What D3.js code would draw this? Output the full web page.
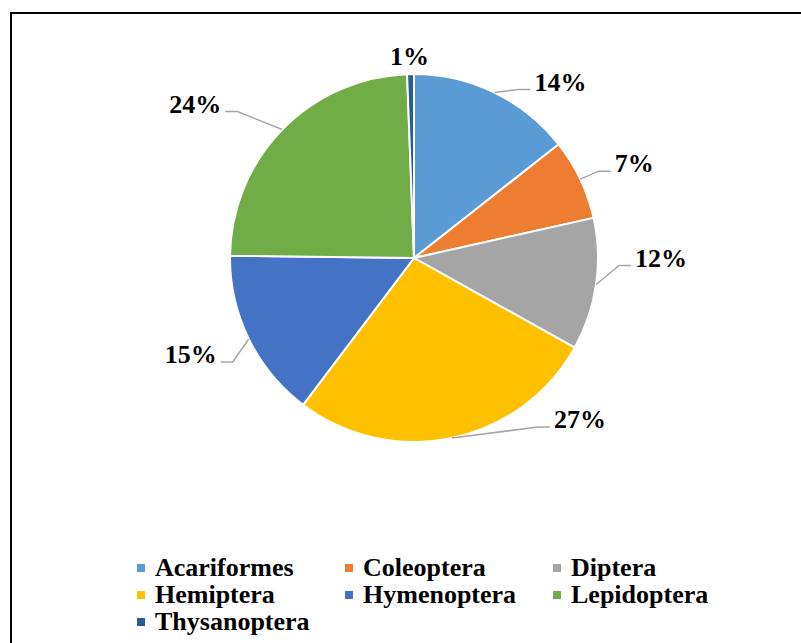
<!doctype html>
<html lang="en">
<head>
  <meta charset="utf-8">
  <script src="https://d3js.org/d3.v7.min.js"></script>
  <style>
    body { margin: 0; background: #fff; }
    text { font-family: "Liberation Serif", "Times New Roman", serif; font-weight: bold; }
  </style>
</head>
<body>
  <script>
    // data (percent of total)
    var categories = ["Acariformes", "Coleoptera", "Diptera", "Hemiptera", "Hymenoptera", "Lepidoptera", "Thysanoptera"];
    var values = [14.4, 7.1, 11.6, 27.2, 14.9, 24.2, 0.6];
    var colors = ["#5B9BD5", "#ED7D31", "#A5A5A5", "#FFC000", "#4472C4", "#70AD47", "#255E91"];

    // label nudges from the slice's outer mid point (layout only)
    var labelNudge = [[66, -2], [54, -7], [65, -18], [128, -10], [-58, 24], [-87, -17], [-1, -9]];

    var width = 801,
        height = 643,
        cx = 414,
        cy = 258,
        radius = 184;

    var svg = d3.select("body").append("svg")
        .attr("width", width)
        .attr("height", height);

    // chart frame (runs off the right and bottom edge)
    svg.append("rect")
        .attr("x", 11).attr("y", 13)
        .attr("width", 820).attr("height", 660)
        .style("fill", "none")
        .style("stroke", "#000")
        .style("stroke-width", 2);

    var pie = d3.pie().sort(null).value(function(d) { return d; });
    var arcs = pie(values);
    var arc = d3.arc().innerRadius(0).outerRadius(radius);

    var g = svg.append("g").attr("transform", "translate(" + cx + "," + cy + ")");

    g.selectAll("path.slice")
        .data(arcs)
      .enter().append("path")
        .attr("class", "slice")
        .attr("d", arc)
        .style("fill", function(d, i) { return colors[i]; })
        .style("stroke", "#fff")
        .style("stroke-width", 2);

    var fmt = function(v) { return Math.round(v) + "%"; };

    arcs.forEach(function(d, i) {
      var mid = (d.startAngle + d.endAngle) / 2;
      var sx = radius * Math.sin(mid),
          sy = -radius * Math.cos(mid);
      var lx = sx + labelNudge[i][0],
          ly = sy + labelNudge[i][1];

      var t = g.append("text")
          .attr("x", lx).attr("y", ly)
          .attr("text-anchor", "middle")
          .style("font-size", "26px")
          .style("fill", "#000")
          .text(fmt(d.value));

      var w = t.node().getComputedTextLength();
      var right = lx > sx;
      var ex = right ? lx - w / 2 - 4 : lx + w / 2 + 4;
      var kx = right ? ex - 12 : ex + 12;
      var ey = ly - 1;

      // leader line only where the label sits away from the slice
      if (Math.hypot(lx - sx, ly - sy) > 30) {
        g.insert("polyline", "text")
            .attr("points", [[sx, sy], [kx, ey], [ex, ey]].map(function(p) { return p.join(","); }).join(" "))
            .style("fill", "none")
            .style("stroke", "#A6A6A6")
            .style("stroke-width", 1.5);
      }
    });

    // legend, three columns
    var legend = svg.append("g");
    var item = legend.selectAll("g.item")
        .data(categories)
      .enter().append("g")
        .attr("class", "item")
        .attr("transform", function(d, i) {
          return "translate(" + (137 + (i % 3) * 208) + "," + (576 + Math.floor(i / 3) * 27) + ")";
        });

    item.append("rect")
        .attr("x", 0).attr("y", -12)
        .attr("width", 8).attr("height", 8)
        .style("fill", function(d, i) { return colors[i]; });

    item.append("text")
        .attr("x", 18).attr("y", 0)
        .style("font-size", "26px")
        .style("fill", "#000")
        .text(function(d) { return d; });
  </script>
</body>
</html>
